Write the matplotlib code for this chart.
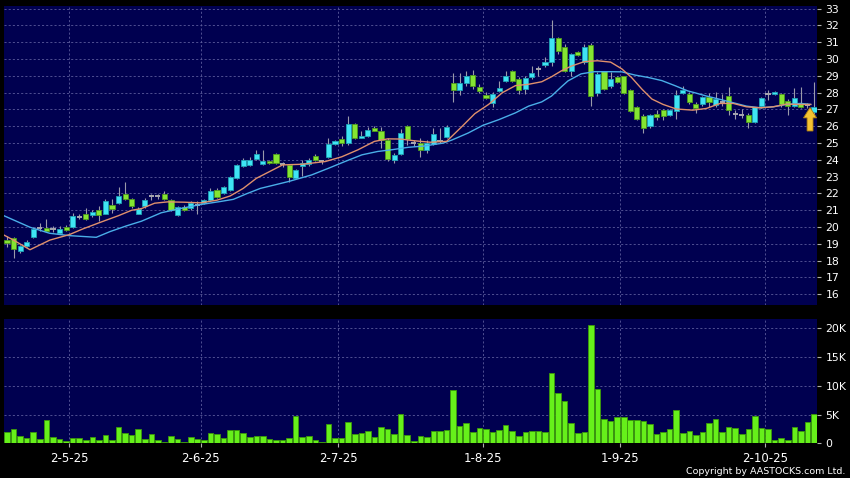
import numpy as np
import matplotlib
matplotlib.use('Agg')
import matplotlib.pyplot as plt
from matplotlib.patches import Polygon

# daily candles (one entry per trading day)
opens = [19.25, 19.33, 18.58, 18.86, 19.41, 19.95, 19.93, 19.90, 19.63, 19.99,
         20.00, 20.60, 20.80, 20.69, 21.00, 20.79, 21.31, 21.45, 21.94, 21.69,
         20.80, 21.27, 21.86, 21.86, 21.98, 21.63, 20.73, 21.19, 21.13, 21.30,
         21.43, 21.63, 22.18, 22.02, 22.22, 22.92, 23.65, 23.71, 24.05, 23.77,
         23.91, 24.37, 23.75, 23.67, 22.94, 23.65, 23.73, 24.25, 23.92, 24.18,
         24.94, 25.24, 25.00, 26.12, 25.33, 25.43, 25.92, 25.69, 25.18, 24.02,
         24.35, 26.00, 25.00, 25.00, 24.59, 24.95, 25.10, 25.38, 28.58, 28.13,
         28.58, 29.05, 28.33, 27.89, 27.40, 28.09, 28.72, 29.27, 28.80, 28.23,
         28.92, 29.41, 29.66, 29.80, 31.23, 30.72, 29.31, 30.43, 29.80, 30.82,
         27.99, 29.27, 28.37, 28.92, 28.97, 28.13, 27.15, 26.60, 26.03, 26.75,
         26.99, 26.70, 26.89, 28.01, 27.93, 27.31, 27.31, 27.72, 27.27, 27.45,
         27.80, 26.73, 26.70, 26.67, 26.24, 27.23, 27.90, 27.90, 27.90, 27.53,
         27.23, 27.41, 27.25, 26.82]
closes = [19.05, 18.70, 18.86, 19.13, 19.91, 19.95, 19.77, 19.90, 19.91, 19.81,
          20.65, 20.60, 20.50, 20.90, 20.73, 21.57, 21.05, 21.84, 21.65, 21.25,
          21.10, 21.63, 21.86, 21.86, 21.67, 20.99, 21.19, 21.03, 21.43, 21.30,
          21.59, 22.16, 21.79, 22.38, 22.98, 23.67, 23.97, 24.01, 24.37, 23.95,
          23.81, 23.81, 23.75, 22.98, 23.37, 23.80, 24.02, 24.00, 23.92, 24.94,
          25.10, 25.00, 26.12, 25.30, 25.43, 25.80, 25.73, 25.20, 24.06, 24.31,
          25.57, 25.24, 25.00, 24.60, 25.03, 25.54, 25.10, 25.93, 28.13, 28.56,
          29.00, 28.37, 28.09, 27.70, 27.93, 28.29, 28.97, 28.72, 28.13, 28.86,
          29.17, 29.41, 29.84, 31.23, 30.49, 29.31, 30.29, 30.25, 30.72, 27.83,
          29.11, 28.23, 28.82, 28.66, 27.97, 26.89, 26.46, 25.87, 26.66, 26.56,
          26.60, 26.99, 27.87, 28.17, 27.44, 27.07, 27.72, 27.42, 27.60, 27.45,
          26.97, 26.73, 26.70, 26.24, 27.13, 27.66, 27.90, 28.02, 27.31, 27.23,
          27.66, 27.17, 27.25, 27.12]
highs = [19.45, 19.40, 18.95, 19.25, 20.00, 20.25, 20.45, 20.05, 20.05, 20.10,
         20.85, 20.75, 21.15, 21.00, 21.25, 21.70, 21.65, 22.40, 22.68, 21.75,
         21.20, 21.73, 21.98, 21.95, 22.12, 21.70, 21.25, 21.30, 21.58, 21.53,
         21.70, 22.32, 22.32, 22.45, 23.05, 23.77, 24.10, 24.20, 24.60, 24.57,
         24.00, 24.42, 23.88, 23.75, 23.45, 24.00, 24.12, 24.35, 24.02, 25.30,
         25.18, 25.40, 26.63, 26.18, 25.70, 25.98, 26.04, 25.98, 25.30, 24.41,
         25.84, 26.08, 25.20, 25.28, 25.18, 25.87, 25.87, 26.10, 29.20, 29.15,
         29.30, 29.35, 28.50, 28.03, 28.03, 28.72, 29.27, 29.35, 28.92, 29.00,
         29.60, 29.60, 30.10, 32.35, 31.30, 30.88, 30.35, 30.50, 30.92, 30.98,
         29.21, 29.31, 29.21, 29.00, 29.00, 28.20, 27.20, 26.75, 26.75, 26.95,
         27.05, 27.05, 28.13, 28.37, 28.03, 27.47, 27.80, 27.99, 28.05, 27.95,
         28.36, 26.97, 27.00, 26.77, 27.17, 27.72, 28.16, 28.10, 27.96, 27.60,
         28.30, 28.35, 27.40, 28.65]
lows = [18.80, 18.15, 18.45, 18.80, 19.35, 19.75, 19.70, 19.70, 19.60, 19.75,
        19.95, 20.50, 20.40, 20.60, 20.35, 20.75, 20.85, 21.40, 21.60, 21.15,
        20.75, 21.13, 21.59, 21.70, 21.60, 20.93, 20.67, 20.95, 21.03, 20.79,
        21.35, 21.55, 21.73, 21.95, 22.15, 22.86, 23.60, 23.65, 24.00, 23.70,
        23.75, 23.75, 23.60, 22.70, 22.85, 23.05, 23.63, 23.92, 23.78, 24.12,
        24.88, 24.80, 24.90, 25.25, 25.29, 25.39, 25.69, 24.70, 23.92, 23.82,
        24.31, 24.90, 24.80, 24.16, 24.40, 24.90, 25.00, 25.30, 27.44, 27.85,
        28.42, 28.23, 28.00, 27.64, 27.15, 28.03, 28.62, 28.62, 27.93, 27.93,
        28.82, 29.02, 29.50, 29.60, 30.30, 29.21, 29.00, 30.20, 29.70, 27.19,
        27.83, 28.13, 28.29, 28.60, 27.93, 26.85, 26.40, 25.60, 25.87, 26.37,
        26.37, 26.60, 26.46, 27.93, 27.34, 26.80, 27.20, 27.17, 27.17, 27.20,
        26.67, 26.41, 26.50, 25.88, 26.18, 27.07, 27.57, 27.85, 27.17, 26.67,
        27.17, 27.07, 27.10, 26.75]
# volume in thousands of shares
volume_k = [2.0, 2.5, 1.3, 0.9, 2.0, 0.75, 4.1, 1.1, 0.8, 0.4,
            0.9, 0.9, 0.5, 1.15, 0.65, 1.5, 0.65, 2.85, 1.8, 1.45,
            2.5, 0.75, 1.55, 0.65, 0.3, 1.25, 0.75, 0.15, 1.1, 0.75,
            0.65, 1.75, 1.55, 1.0, 2.25, 2.25, 1.75, 1.1, 1.25, 1.2,
            0.8, 0.6, 0.6, 0.85, 4.75, 1.15, 1.25, 0.6, 0.25, 3.35,
            0.9, 0.9, 3.65, 1.6, 1.75, 2.15, 1.1, 2.85, 2.45, 1.6,
            5.05, 1.4, 0.4, 1.25, 1.1, 2.1, 2.1, 2.3, 9.3, 3.0,
            3.5, 2.0, 2.7, 2.4, 2.0, 2.3, 3.1, 2.1, 1.3, 2.0,
            2.1, 2.1, 1.9, 12.3, 8.7, 7.3, 3.5, 1.8, 2.0, 20.5,
            9.4, 4.2, 3.9, 4.5, 4.6, 4.0, 4.0, 3.8, 3.4, 1.7,
            1.9, 2.4, 5.8, 1.8, 2.1, 1.5, 1.9, 3.6, 4.2, 2.0,
            2.8, 2.6, 1.7, 2.5, 4.8, 2.6, 2.4, 0.6, 0.9, 0.5,
            2.8, 2.2, 3.7, 5.1]

# moving averages (day index, value)
ma10_day = [-0.5, 1, 3.5, 6.5, 9.5, 11.5, 14, 17, 19, 20.5, 22.5, 24.5, 27, 29.5,
            32, 34, 36, 38, 40, 42, 45, 48.5, 51, 53.5, 56, 58, 60, 62, 64.5, 67,
            69.3, 71.3, 73.4, 75.5, 77.5, 79.5, 81.5, 83, 84.5, 86, 88, 90, 92,
            93.7, 95.2, 96.8, 98.3, 100, 102, 104.5, 106.6, 108.7, 110.7, 112.7,
            114.8, 116.8, 118.8, 121, 122.5]
ma10_val = [19.53, 19.22, 18.65, 19.22, 19.55, 19.88, 20.25, 20.68, 21.0, 21.1,
            21.42, 21.5, 21.48, 21.44, 21.6, 21.85, 22.3, 22.9, 23.3, 23.7, 23.74,
            23.9, 24.18, 24.6, 25.1, 25.25, 25.24, 25.14, 25.05, 25.1, 25.97,
            26.75, 27.3, 28.0, 28.42, 28.5, 28.65, 28.95, 29.3, 29.58, 29.85,
            29.9, 29.82, 29.42, 28.9, 28.2, 27.62, 27.3, 27.03, 26.96, 27.06,
            27.36, 27.36, 27.16, 27.1, 27.16, 27.32, 27.3, 27.3]
ma20_day = [-0.5, 3.5, 6.5, 9.5, 13.6, 15.7, 18.2, 20.5, 23.5, 26.4, 29.5, 32.5,
            34.5, 36.5, 38.6, 40.7, 43, 46.4, 49, 51.5, 54.1, 56.5, 58.6, 61.2,
            63.5, 66.5, 67.8, 70.3, 72.5, 75, 77.5, 79.5, 81.5, 83, 84.5, 85.5,
            87.5, 89.5, 91.8, 93.7, 95.7, 97.8, 99.8, 101.8, 103.8, 104.8, 106.6,
            108.7, 110.7, 112.7, 114.8, 116.8, 118.8, 121, 122.5]
ma20_val = [20.68, 19.99, 19.63, 19.49, 19.39, 19.73, 20.07, 20.35, 20.85, 21.1,
            21.34, 21.52, 21.65, 21.98, 22.3, 22.5, 22.72, 23.1, 23.5, 23.9, 24.3,
            24.5, 24.6, 24.75, 24.82, 25.0, 25.18, 25.6, 26.05, 26.4, 26.8, 27.2,
            27.45, 27.8, 28.35, 28.7, 29.12, 29.25, 29.25, 29.24, 29.05, 28.9,
            28.72, 28.42, 28.1, 28.0, 27.8, 27.6, 27.4, 27.2, 27.1, 27.16, 27.3,
            27.36, 27.3]

# first trading day of each month (index) and its label
month_first = [10, 30, 51, 73, 94, 116]
month_labels = ['2-5-25', '2-6-25', '2-7-25', '1-8-25', '1-9-25', '2-10-25']

price_ticks = list(range(16, 34))
vol_ticks = [0, 5000, 10000, 15000, 20000]
vol_labels = ['0', '5K', '10K', '15K', '20K']

opens = np.array(opens); closes = np.array(closes)
highs = np.array(highs); lows = np.array(lows)
n = len(closes)
idx = np.arange(n)

navy = '#000050'
grid_c = '#5c5c9c'
up_c, up_edge = '#3fe4f4', '#1fa2b4'
dn_c, dn_edge = '#84e432', '#4e9a1c'
doji_c = '#a8a8b0'
wick_c = '#9a9aaa'

fig = plt.figure(figsize=(8.5, 4.78), dpi=100, facecolor='black')
ax = fig.add_axes([4 / 850, 1 - 305 / 478, 813 / 850, 299 / 478])
axv = fig.add_axes([4 / 850, 1 - 443.3 / 478, 813 / 850, 124.3 / 478])

grid_pos = np.array(month_first) - 0.5
for a in (ax, axv):
    a.set_facecolor(navy)
    for s in a.spines.values():
        s.set_visible(False)
    a.set_xlim(-0.46, n - 0.54)
    a.set_xticks(grid_pos)
    a.grid(True, color=grid_c, lw=0.6, ls=(0, (2.5, 2.5)))
    a.set_axisbelow(True)
    a.yaxis.tick_right()
    a.tick_params(axis='y', colors='#b0b0b0', labelcolor='white', length=3,
                  width=0.8, pad=3, labelsize=7.8)
    a.tick_params(axis='x', colors='#b0b0b0', labelcolor='white', length=3,
                  width=0.8, pad=3, labelsize=8.5)

# price panel
ax.set_ylim(15.36, 33.16)
ax.set_yticks(price_ticks)
ax.set_xticklabels([])
ax.tick_params(axis='x', length=0)

ax.vlines(idx, lows, highs, color=wick_c, lw=0.8, zorder=2)
up = closes > opens
dn = closes < opens
doji = closes == opens
body_w = 0.78
ax.bar(idx[up], (closes - opens)[up], bottom=opens[up], width=body_w,
       color=up_c, edgecolor=up_edge, lw=0.6, zorder=3)
ax.bar(idx[dn], (opens - closes)[dn], bottom=closes[dn], width=body_w,
       color=dn_c, edgecolor=dn_edge, lw=0.6, zorder=3)
ax.hlines(closes[doji], idx[doji] - body_w / 2, idx[doji] + body_w / 2,
          color=doji_c, lw=1.4, zorder=3)

ax.plot(ma20_day, ma20_val, color='#4aaee8', lw=1.0, zorder=4)
ax.plot(ma10_day, ma10_val, color='#e0906c', lw=1.0, zorder=4)

# yellow arrow pointing at the last close
tip_x, tip_y = idx[-1] - 0.6, closes[-1]
hw, hh, sw, sl = 1.0, 0.62, 0.45, 0.78
arrow = Polygon([(tip_x, tip_y), (tip_x + hw, tip_y - hh), (tip_x + sw, tip_y - hh),
                 (tip_x + sw, tip_y - hh - sl), (tip_x - sw, tip_y - hh - sl),
                 (tip_x - sw, tip_y - hh), (tip_x - hw, tip_y - hh)],
                closed=True, facecolor='#f4c232', edgecolor='#b08010', lw=0.6, zorder=6)
ax.add_patch(arrow)

# volume panel
vol = np.array(volume_k) * 1000
axv.set_ylim(0, 21617)
axv.set_yticks(vol_ticks)
axv.set_yticklabels(vol_labels)
axv.set_xticklabels(month_labels)
axv.bar(idx, vol, width=0.85, color='#66f01a', edgecolor='#3c9a0a', lw=0.6, zorder=3)

fig.text(0.994, 0.0132, 'Copyright by AASTOCKS.com Ltd.', ha='right', va='center',
         color='white', fontsize=6.8)

fig.savefig('out.png', dpi=100, facecolor='black')
